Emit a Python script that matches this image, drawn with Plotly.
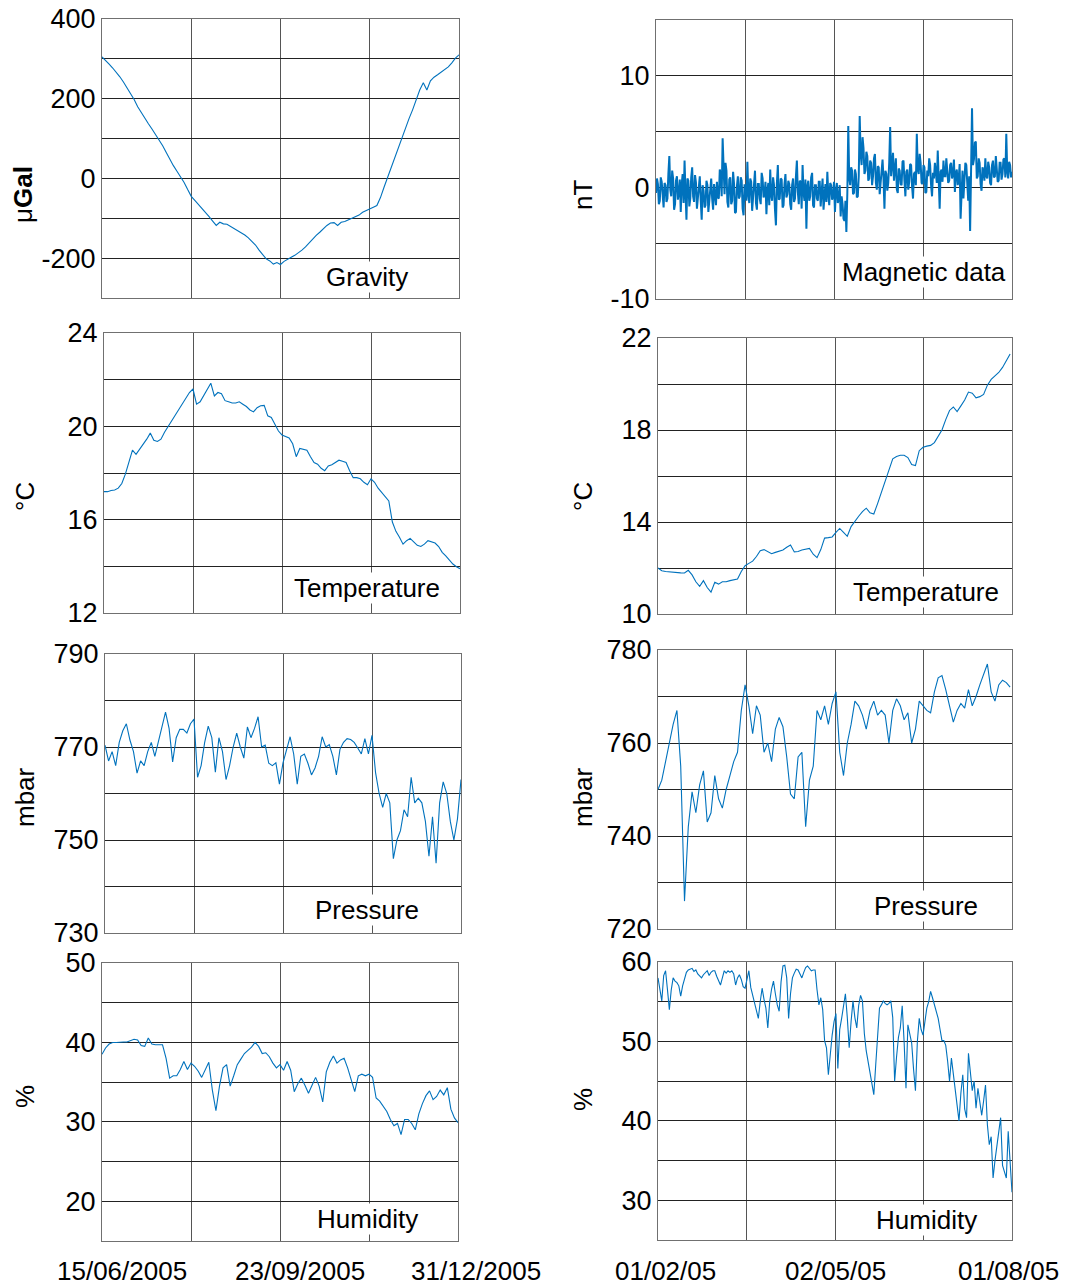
import pandas as pd
import plotly.graph_objects as go

W, H = 1065, 1287

# ---------------- DATA ----------------
left_start, left_end = "2005-06-04", "2005-12-21"     # 2-day sampling
right_start, right_end = "2005-01-28", "2005-08-03"

gravity = [305, 297, 287, 277, 267, 255, 242, 228, 212, 198,
           180, 165, 150, 137, 124, 110, 97, 82, 65, 47,
           32, 18, 5, -10, -28, -45, -55, -65, -74, -84,
           -96, -107, -118, -110, -114, -115, -120, -125, -131, -136,
           -142, -149, -157, -167, -180, -192, -202, -207, -215, -211,
           -216, -208, -204, -198, -193, -187, -180, -172, -162, -152,
           -143, -135, -126, -118, -112, -111, -118, -110, -108, -104,
           -102, -98, -92, -85, -80, -76, -72, -68, -48, -22,
           3, 28, 52, 77, 102, 128, 150, 172, 198, 222,
           240, 222, 245, 254, 260, 266, 274, 280, 290, 302,
           310]

temp_left = [17.2, 17.2, 17.25, 17.27, 17.35, 17.55, 17.95, 18.5, 18.98, 18.8,
             19.0, 19.2, 19.45, 19.71, 19.4, 19.35, 19.45, 19.75, 20.0, 20.25,
             20.45, 20.75, 20.95, 21.2, 21.45, 21.6, 20.95, 21.05, 21.3, 21.6,
             21.85, 21.3, 21.45, 21.4, 21.1, 21.05, 21.0, 21.0, 21.05, 20.95,
             20.85, 20.7, 20.62, 20.8, 20.88, 20.9, 20.45, 20.38, 20.1, 19.8,
             19.63, 19.58, 19.5, 19.25, 18.7, 19.05, 19.0, 18.98, 18.7, 18.45,
             18.38, 18.2, 18.1, 18.3, 18.35, 18.45, 18.55, 18.5, 18.45, 18.1,
             17.8, 17.8, 17.75, 17.6, 17.5, 17.75, 17.6, 17.35, 17.15, 16.95,
             16.8, 15.9, 15.5, 15.25, 14.95, 15.1, 15.2, 15.05, 14.9, 14.85,
             14.95, 15.1, 15.05, 15.0, 14.85, 14.6, 14.45, 14.28, 14.1, 13.98,
             13.9]

pressure_left = [770.4, 767, 769, 766, 771, 773.5, 775, 771.5, 769, 764.4,
                 767, 766, 769, 771, 768, 771, 774.3, 777.5, 774, 766.8,
                 772, 773.8, 773.8, 773, 775, 776, 763.5, 766, 771, 774.5,
                 772, 764.6, 772, 769, 763, 766, 770, 773, 770, 767.6,
                 774.3, 772, 774, 776.5, 770, 770.4, 766.5, 766, 766.6, 762,
                 766.6, 769.5, 772.2, 768.5, 762, 768, 768.5, 766.5, 764, 765.5,
                 768, 772.2, 770, 770.5, 768, 764, 769.5, 771, 771.8, 771.6,
                 771, 769.8, 768.5, 771.8, 768.5, 772.5, 764.5, 760, 757, 760,
                 758, 746, 750, 752, 756.5, 755, 763.5, 758, 759, 758,
                 754, 746.5, 755, 745, 758, 762.5, 760, 754, 750, 754.5,
                 763]

humidity_left = [38.5, 39.3, 39.8, 40.0, 40.0, 40.05, 40.05, 40.05, 40.2, 40.4,
                 40.3, 39.6, 39.5, 40.55, 39.8, 39.7, 39.7, 39.7, 38.0, 35.5,
                 35.8, 35.8, 36.6, 37.6, 36.6, 37.4, 37.0, 36.4, 35.6, 36.5,
                 37.5, 34.0, 31.4, 34.5, 36.8, 37.2, 34.5, 35.8, 37.2, 37.9,
                 38.6, 39.0, 39.4, 40.0, 39.5, 38.6, 38.7, 38.2, 37.4, 36.8,
                 37.2, 36.5, 37.6, 36.5, 33.8, 34.8, 35.5, 34.6, 33.6, 34.6,
                 35.6, 34.5, 32.5, 36.3, 37.5, 38.3, 37.4, 37.8, 38.0, 36.8,
                 35.2, 33.8, 35.8, 36.0, 35.8, 36.0, 35.6, 33.0, 32.6, 32.0,
                 31.3, 30.3, 29.5, 29.8, 28.4, 30.3, 30.3, 29.8, 29.0, 31.0,
                 32.3, 33.3, 33.9, 32.8, 33.2, 34.0, 33.4, 34.3, 31.6, 30.5,
                 29.9]

# right column: magnetic every 12 h, humidity daily, temperature & pressure every 2 days
magnetic = [-0.5, 0.8, 0.3, -1.5, -1.2, 0.9, 0.5, -0.6, -1.8, 0.4,
            0.2, -1.3, -1.0, 1.2, 2.8, -0.2, -0.8, 1.5, 0.8, -2.0,
            -1.5, 0.6, 1.0, -1.1, -0.5, 0.7, -2.2, 0.3, 1.2, -1.4,
            2.4, -0.5, -2.9, 0.8, 0.6, -1.7, -1.0, 0.9, 1.8, -0.8,
            -1.3, 1.1, 0.4, -1.9, -0.8, 0.5, 1.0, -1.2, -2.9, 0.2,
            -0.3, -1.8, -1.6, 0.6, 0.2, -2.2, -1.2, 0.4, 0.8, -1.0,
            -2.0, 0.3, -0.4, -1.6, 0.5, -0.9, -1.0, 1.6, 1.2, -0.8,
            4.4, 0.5, -0.6, 2.2, 1.5, -1.3, -1.8, 0.7, 0.9, -1.5,
            -1.2, 1.4, 0.3, -2.3, -2.2, 0.1, 1.0, -1.0, -0.8, 0.9,
            0.6, -1.9, -2.5, 0.2, 0.2, -1.2, 2.3, -0.6, -1.4, 0.8,
            0.5, -2.1, -1.0, 0.6, 1.5, -1.4, -2.0, 0.3, 0.3, -1.0,
            -1.5, 1.3, 0.8, -0.9, -0.6, 0.5, -2.4, -0.3, 0.4, -1.6,
            1.6, -0.7, -1.2, 0.9, 0.2, -2.0, -3.4, 0.4, 2.0, -1.1,
            -1.0, 0.8, 0.7, -1.8, -1.6, 0.3, 1.2, -0.9, -0.6, 0.6,
            0.3, -1.5, -2.0, 0.2, 0.8, -1.3, -1.0, 1.0, 2.4, -0.4,
            -1.5, 0.6, 0.5, -1.9, 2.0, -0.5, -1.2, 0.7, -3.7, 0.1,
            0.6, -1.2, -0.8, 0.9, 1.3, -1.6, -1.8, 0.2, 0.2, -1.0,
            -1.2, 0.5, 0.5, -1.7, -0.4, 0.8, -2.0, -0.2, 0.3, -1.3,
            1.4, -0.6, -1.6, 0.4, 0.2, -1.1, -0.8, 0.5, -2.2, -0.3,
            0.4, -1.4, -1.0, 0.2, -2.6, -0.8, -1.5, -2.8, -3.0, -1.2,
            -4.0, -0.5, 5.5, 0.8, 0.2, 1.8, 1.5, -0.6, -0.5, 1.6,
            1.2, -0.9, -0.8, 1.0, 6.4, 3.0, 2.0, 4.5, 3.5, 1.2,
            1.5, 3.2, 2.8, 0.6, 0.8, 2.4, 2.2, 0.2, 1.0, 2.6,
            3.0, 0.4, -0.2, 1.9, 1.8, -0.6, 0.5, 2.0, 2.5, 0.8,
            -1.9, 1.5, 1.2, -0.3, 0.4, 2.2, 5.4, 1.0, 1.8, 3.1,
            0.6, 2.0, 2.6, -0.2, -0.5, 1.7, 1.5, 0.3, 0.2, 2.3,
            2.4, 0.6, -0.8, 1.4, 1.6, -0.2, 0.5, 2.1, 2.0, 0.1,
            -1.0, 1.2, 1.4, 0.2, 4.8, 1.6, 1.2, 3.0, 2.2, 0.4,
            0.3, 2.0, 1.8, -0.5, -0.4, 1.5, 1.0, 2.6, 2.0, 0.2,
            -0.8, 1.3, 0.8, 2.2, 1.5, 0.4, 3.3, 0.9, -1.9, 1.4,
            1.6, 0.5, 2.4, 1.0, 1.0, 2.6, 1.8, 0.4, 0.6, 2.0,
            2.2, 0.8, 1.2, 2.5, -0.4, 1.3, 1.6, 0.2, 0.8, 2.1,
            -2.8, 0.6, 1.5, -1.0, 0.4, 2.2, 2.0, 0.1, -1.2, 1.0,
            -3.9, 1.5, 7.1, 2.0, 2.5, 4.0, 4.1, 0.8, 1.0, 2.6,
            2.2, 0.3, -0.3, 1.8, 1.5, 0.6, 2.6, 1.0, 0.8, 2.3,
            1.8, 0.4, 0.2, 2.0, 2.4, 0.9, 1.0, 2.8, 1.6, 0.5,
            0.6, 2.2, 2.2, 0.7, 1.2, 2.5, 2.6, 0.9, 4.8, 1.4,
            0.8, 2.3, 2.0, 0.9, 1.4]

temp_right = [12.0, 11.88, 11.85, 11.83, 11.8, 11.8, 11.79, 11.78, 11.9, 11.7,
              11.4, 11.2, 11.45, 11.15, 10.95, 11.38, 11.3, 11.4, 11.4, 11.45,
              11.48, 11.52, 11.85, 12.1, 12.2, 12.3, 12.5, 12.75, 12.8, 12.7,
              12.62, 12.68, 12.72, 12.78, 12.9, 13.0, 12.7, 12.72, 12.78, 12.82,
              12.85, 12.6, 12.45, 12.8, 13.3, 13.32, 13.35, 13.55, 13.72, 13.55,
              13.38, 13.8, 14.05, 14.25, 14.45, 14.6, 14.4, 14.35, 14.8, 15.3,
              15.8, 16.3, 16.75, 16.85, 16.9, 16.9, 16.8, 16.5, 16.45, 17.1,
              17.25, 17.3, 17.33, 17.45, 17.7, 18.0, 18.45, 18.85, 19.0, 18.8,
              19.05, 19.3, 19.65, 19.6, 19.4, 19.45, 19.55, 19.95, 20.2, 20.35,
              20.5, 20.72, 21.0, 21.3]

pressure_right = [750, 752, 756, 760, 764, 767, 755, 726, 742, 749.5,
                  745, 751, 754, 743, 745, 753, 748, 746, 750, 753,
                  756, 758, 767, 772.5, 768, 762, 768, 766, 758, 760,
                  756, 763, 765.5, 763.5, 757, 749, 748, 757, 758, 742,
                  752, 755, 767, 765, 768, 764, 768.5, 771, 758, 753,
                  760, 764, 769, 768, 766, 763, 767, 769, 766, 767,
                  766, 760, 767, 769.5, 768, 765, 766.5, 760, 763, 769,
                  768, 767, 766.5, 771, 774, 774.5, 771.5, 768, 764.5, 767,
                  768.5, 767.5, 771.5, 768, 770, 772.5, 775, 777, 771, 769,
                  772.5, 773.5, 773, 772]

humidity_right = [58.0, 56.5, 55.1, 58.3, 58.9, 56.5, 54.0, 56.5, 58.0, 57.6,
                  57.4, 57.0, 55.7, 57.0, 58.0, 58.7, 59.0, 59.1, 59.2, 58.8,
                  59.0, 58.5, 58.2, 58.0, 58.4, 58.7, 58.9, 58.3, 58.7, 58.9,
                  58.9, 58.2, 57.6, 57.1, 58.0, 58.9, 58.6, 58.9, 58.7, 58.9,
                  58.5, 57.1, 58.0, 58.4, 57.8, 56.9, 56.7, 58.0, 58.9, 56.8,
                  55.8, 55.1, 54.0, 52.9, 55.0, 56.7, 55.3, 54.2, 51.7, 55.0,
                  56.6, 57.6, 56.0, 54.6, 53.8, 57.5, 59.5, 59.6, 58.0, 52.9,
                  56.0, 58.0, 58.6, 59.1, 59.0, 58.5, 58.0, 58.7, 59.3, 59.5,
                  59.2, 58.9, 59.0, 59.0, 56.5, 54.6, 55.5, 54.0, 50.1, 49.2,
                  45.8, 48.5, 50.8, 52.5, 53.5, 46.6, 51.5, 52.9, 54.5, 56.0,
                  53.0, 49.2, 52.5, 55.1, 53.0, 51.7, 54.5, 55.8, 55.1, 51.0,
                  48.8, 47.5, 46.3, 44.8, 43.3, 47.0, 50.1, 54.2, 54.6, 55.1,
                  54.8, 54.6, 54.8, 55.1, 53.0, 45.0, 48.0, 50.5, 51.7, 54.5,
                  50.0, 44.1, 52.1, 51.0, 49.8, 46.5, 43.8, 50.0, 52.9, 51.5,
                  50.8, 52.5, 54.2, 55.0, 56.3, 55.5, 54.6, 54.0, 52.9, 51.5,
                  50.1, 50.1, 49.5, 47.5, 45.0, 47.9, 46.0, 43.8, 41.5, 40.0,
                  43.5, 45.8, 41.5, 40.4, 48.5, 46.0, 43.8, 45.0, 41.6, 44.1,
                  42.5, 40.7, 42.5, 44.5, 39.5, 37.0, 38.0, 32.8, 35.0, 37.0,
                  39.0, 40.4, 34.4, 33.5, 32.8, 38.7, 35.3, 31.0]

left_date_labels = ["15/06/2005", "23/09/2005", "31/12/2005"]
left_date_vals = ["2005-06-15", "2005-09-23", "2005-12-31"]
right_date_labels = ["01/02/05", "02/05/05", "01/08/05"]
right_date_vals = ["2005-02-01", "2005-05-02", "2005-08-01"]

panel_names = ["Gravity", "Temperature", "Pressure", "Humidity",
               "Magnetic data", "Temperature", "Pressure", "Humidity"]
unit_labels = ["μ<b>Gal</b>", "°C", "mbar", "%", "nT", "°C", "mbar", "%"]

# y-axis: (range, grid step, labelled ticks)
y_ranges = [(-300, 400), (12, 24), (730, 790), (15, 50),
            (-10, 15), (10, 22), (720, 780), (25, 60)]
y_steps = [100, 2, 10, 5, 5, 2, 10, 5]
y_labels = [[-200, 0, 200, 400], [12, 16, 20, 24], [730, 750, 770, 790], [20, 30, 40, 50],
            [-10, 0, 10], [10, 14, 18, 22], [720, 740, 760, 780], [30, 40, 50, 60]]

# ---------------- FIGURE ----------------
def dates(start, n, freq):
    return pd.date_range(start, periods=n, freq=freq)

series = [
    (dates(left_start, len(gravity), "2D"), gravity),
    (dates(left_start, len(temp_left), "2D"), temp_left),
    (dates(left_start, len(pressure_left), "2D"), pressure_left),
    (dates(left_start, len(humidity_left), "2D"), humidity_left),
    (dates(right_start, len(magnetic), "12h"), magnetic),
    (dates(right_start, len(temp_right), "2D"), temp_right),
    (dates(right_start, len(pressure_right), "2D"), pressure_right),
    (dates(right_start, len(humidity_right), "D"), humidity_right),
]

# pixel boxes (left, top, right, bottom)
boxes = [(102, 19, 459, 298), (104, 333, 460, 613), (105, 654, 461, 933), (102, 963, 458, 1241),
         (656, 20, 1012, 299), (658, 338, 1012, 614), (658, 650, 1012, 929), (658, 962, 1012, 1240)]

FONT = "Liberation Sans, Arial, Helvetica, sans-serif"
BLUE = "#0072BD"
FS = 26

fig = go.Figure()
layout = dict(template="none", width=W, height=H, margin=dict(l=0, r=0, t=0, b=0, autoexpand=False),
              paper_bgcolor="white", plot_bgcolor="white", showlegend=False,
              font=dict(family=FONT, size=FS, color="black"))
annotations = []


def px_x(v):
    return v / W


def px_y(v):
    return 1 - v / H


for i in range(8):
    n = i + 1
    xs, ys = series[i]
    left = i < 4
    start, end = (left_start, left_end) if left else (right_start, right_end)
    grid = pd.date_range(start, end, periods=5)[1:4]
    l, t, r, b = boxes[i]
    fig.add_trace(go.Scatter(x=xs, y=ys, mode="lines",
                             line=dict(color=BLUE, width=2.0 if i == 4 else 1.1),
                             xaxis=f"x{n}", yaxis=f"y{n}", hoverinfo="skip"))
    lo, hi = y_ranges[i]
    step = y_steps[i]
    gv = []
    v = lo
    while v <= hi + 1e-9:
        gv.append(v)
        v += step
    tt = [str(g) if g in y_labels[i] else "" for g in gv]
    layout[f"xaxis{n}"] = dict(domain=[px_x(l), px_x(r)], anchor=f"y{n}", type="date",
                               range=[start, end], tickvals=[g.isoformat() for g in grid],
                               showticklabels=False, ticks="", showgrid=True, automargin=False,
                               gridcolor="#555555", gridwidth=1, zeroline=False,
                               showline=True, mirror=True, linecolor="#707070", linewidth=1)
    layout[f"yaxis{n}"] = dict(domain=[px_y(b), px_y(t)], anchor=f"x{n}",
                               range=[lo, hi], tickvals=gv, ticktext=tt, ticks="",
                               automargin=False,
                               showgrid=True, gridcolor="#222222", gridwidth=1, zeroline=False,
                               showline=True, mirror=True, linecolor="#707070", linewidth=1,
                               tickfont=dict(size=FS + 1, family=FONT, color="black"))

# panel labels
label_pos = [(367, 277), (367, 588), (367, 910), (367, 1219),
             (924, 272), (926, 592), (926, 906), (926, 1220)]
for name, (x, y) in zip(panel_names, label_pos):
    annotations.append(dict(text=name, x=px_x(x), y=px_y(y), xref="paper", yref="paper",
                            showarrow=False, xanchor="center", yanchor="middle",
                            bgcolor="white", borderpad=0,
                            font=dict(size=FS, family=FONT, color="black")))

# unit labels
unit_pos = [(23, 195), (25, 497), (25, 797), (25, 1097),
            (583, 195), (583, 497), (583, 797), (583, 1100)]
for u, (x, y) in zip(unit_labels, unit_pos):
    annotations.append(dict(text=u, x=px_x(x), y=px_y(y), xref="paper", yref="paper",
                            showarrow=False, textangle=-90, xanchor="center", yanchor="middle",
                            font=dict(size=FS, family=FONT, color="black")))


# date labels under the bottom panels (positioned along the bottom axes' date scale)
def date_to_paper(val, start, end, box):
    s, e, d = pd.Timestamp(start), pd.Timestamp(end), pd.Timestamp(val)
    frac = (d - s) / (e - s)
    return px_x(box[0]) + frac * (px_x(box[2]) - px_x(box[0]))


for lab, val in zip(left_date_labels, left_date_vals):
    annotations.append(dict(text=lab, x=date_to_paper(val, left_start, left_end, boxes[3]),
                            y=px_y(1271), xref="paper", yref="paper",
                            showarrow=False, xanchor="center", yanchor="middle",
                            font=dict(size=FS, family=FONT, color="black")))
for lab, val in zip(right_date_labels, right_date_vals):
    annotations.append(dict(text=lab, x=date_to_paper(val, right_start, right_end, boxes[7]),
                            y=px_y(1271), xref="paper", yref="paper",
                            showarrow=False, xanchor="center", yanchor="middle",
                            font=dict(size=FS, family=FONT, color="black")))

layout["annotations"] = annotations
fig.update_layout(**layout)
fig.write_html("out.html")
